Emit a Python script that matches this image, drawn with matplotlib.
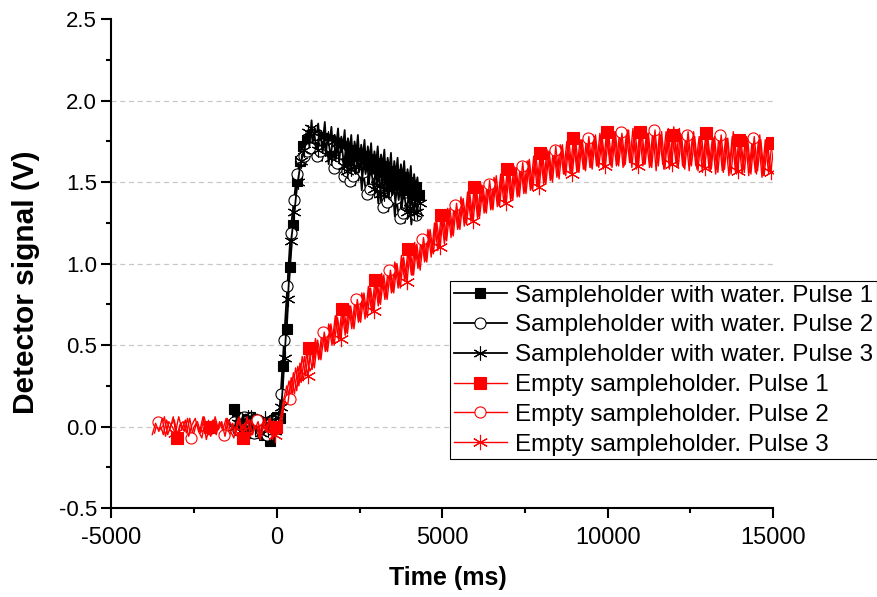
import numpy as np
import matplotlib
matplotlib.use("Agg")
import matplotlib.pyplot as plt
from matplotlib.ticker import MultipleLocator

plt.rcParams['font.family'] = ['Liberation Sans', 'DejaVu Sans']
plt.rcParams['axes.unicode_minus'] = False

# ---- data (time in ms, signal in V) ----
labels = [
    "Sampleholder with water. Pulse 1",
    "Sampleholder with water. Pulse 2",
    "Sampleholder with water. Pulse 3",
    "Empty sampleholder. Pulse 1",
    "Empty sampleholder. Pulse 2",
    "Empty sampleholder. Pulse 3",
]

# sampleholder with water: first sample time, 50 ms sampling
water_start = [-1300, -1283, -1267]
water_step = 50
water_v1 = [0.11, 0.03, 0.06, -0.02, 0.04, 0.07, -0.01, 0.05, 0.01, -0.03,
            0.06, 0.02, -0.04, 0.04, 0.00, 0.07, -0.02, 0.03, -0.05, 0.05,
            0.01, -0.03, -0.09, 0.04, 0.02, -0.04, 0.06, 0.00, 0.05, 0.15,
            0.37, 0.48, 0.60, 0.80, 0.98, 1.12, 1.24, 1.38, 1.51, 1.57,
            1.63, 1.70, 1.72, 1.78, 1.75, 1.82, 1.76, 1.88, 1.73, 1.83,
            1.78, 1.86, 1.72, 1.81, 1.77, 1.87, 1.71, 1.80, 1.75, 1.84,
            1.69, 1.79, 1.74, 1.83, 1.68, 1.78, 1.72, 1.82, 1.66, 1.77,
            1.70, 1.79, 1.63, 1.75, 1.68, 1.79, 1.62, 1.73, 1.66, 1.76,
            1.60, 1.72, 1.64, 1.74, 1.57, 1.69, 1.62, 1.72, 1.56, 1.67,
            1.60, 1.70, 1.52, 1.65, 1.57, 1.68, 1.50, 1.63, 1.55, 1.65,
            1.48, 1.61, 1.53, 1.63, 1.45, 1.58, 1.50, 1.60, 1.42, 1.55,
            1.47, 1.53, 1.42]
water_v2 = [0.03, 0.07, -0.02, 0.05, 0.01, -0.01, 0.06, 0.02, 0.04, -0.03,
            0.05, 0.00, -0.04, 0.06, 0.02, 0.04, -0.02, 0.05, -0.01, 0.03,
            -0.05, 0.02, 0.03, -0.03, -0.01, 0.05, 0.04, 0.07, 0.20, 0.36,
            0.53, 0.70, 0.86, 1.03, 1.19, 1.30, 1.39, 1.48, 1.55, 1.60,
            1.64, 1.69, 1.66, 1.75, 1.69, 1.79, 1.71, 1.67, 1.78, 1.70,
            1.66, 1.77, 1.69, 1.63, 1.75, 1.66, 1.73, 1.61, 1.72, 1.64,
            1.59, 1.70, 1.62, 1.56, 1.68, 1.59, 1.54, 1.66, 1.57, 1.62,
            1.51, 1.62, 1.54, 1.48, 1.60, 1.51, 1.58, 1.45, 1.56, 1.48,
            1.43, 1.54, 1.46, 1.40, 1.52, 1.43, 1.50, 1.37, 1.48, 1.40,
            1.35, 1.46, 1.38, 1.32, 1.44, 1.35, 1.42, 1.29, 1.40, 1.32,
            1.28, 1.39, 1.31, 1.25, 1.37, 1.28, 1.35, 1.24, 1.34, 1.27,
            1.30]
water_v3 = [0.00, 0.05, 0.02, -0.03, 0.04, 0.07, -0.02, 0.03, 0.06, -0.01,
            0.06, 0.01, -0.01, 0.04, 0.03, -0.04, -0.04, 0.05, 0.05, 0.00,
            -0.02, 0.03, 0.04, -0.02, -0.03, 0.06, 0.05, 0.08, 0.12, 0.25,
            0.42, 0.60, 0.78, 0.96, 1.14, 1.23, 1.32, 1.42, 1.50, 1.57,
            1.63, 1.66, 1.70, 1.77, 1.81, 1.72, 1.83, 1.74, 1.80, 1.71,
            1.70, 1.82, 1.78, 1.68, 1.78, 1.67, 1.77, 1.72, 1.65, 1.76,
            1.75, 1.64, 1.74, 1.62, 1.73, 1.69, 1.60, 1.71, 1.57, 1.69,
            1.58, 1.68, 1.60, 1.55, 1.67, 1.56, 1.65, 1.52, 1.63, 1.55,
            1.62, 1.49, 1.60, 1.53, 1.46, 1.58, 1.48, 1.56, 1.43, 1.54,
            1.43, 1.53, 1.46, 1.40, 1.51, 1.42, 1.49, 1.37, 1.48, 1.39,
            1.47, 1.35, 1.45, 1.38, 1.32, 1.43, 1.34, 1.41, 1.31, 1.40,
            1.32, 1.41, 1.37]

# empty sampleholder: first sample time, 100 ms sampling
empty_start = [-3533, -3700, -3767]
empty_step = 100
empty_v1 = [0.02, -0.05, 0.04, -0.02, 0.06, -0.07, 0.01, 0.03, -0.04, 0.05,
            -0.06, 0.02, -0.03, 0.06, -0.08, 0.00, 0.04, -0.05, 0.03, -0.02,
            0.05, -0.06, 0.02, -0.04, 0.06, -0.07, 0.01, 0.04, -0.05, 0.02,
            -0.07, 0.03, -0.03, 0.05, -0.08, 0.00, 0.02, 0.10, 0.17, 0.28,
            0.20, 0.36, 0.25, 0.43, 0.31, 0.48, 0.35, 0.54, 0.41, 0.59,
            0.46, 0.63, 0.50, 0.68, 0.53, 0.72, 0.56, 0.75, 0.60, 0.79,
            0.64, 0.82, 0.66, 0.86, 0.70, 0.90, 0.74, 0.94, 0.78, 0.97,
            0.82, 1.01, 0.85, 1.05, 0.89, 1.09, 0.93, 1.13, 0.97, 1.17,
            1.01, 1.21, 1.04, 1.25, 1.08, 1.30, 1.12, 1.34, 1.16, 1.38,
            1.21, 1.41, 1.23, 1.44, 1.26, 1.47, 1.28, 1.49, 1.31, 1.51,
            1.33, 1.53, 1.35, 1.55, 1.37, 1.58, 1.39, 1.60, 1.41, 1.62,
            1.43, 1.63, 1.45, 1.66, 1.47, 1.68, 1.49, 1.70, 1.51, 1.72,
            1.53, 1.73, 1.55, 1.75, 1.56, 1.77, 1.57, 1.76, 1.58, 1.78,
            1.59, 1.79, 1.60, 1.80, 1.58, 1.81, 1.61, 1.79, 1.60, 1.82,
            1.59, 1.80, 1.62, 1.83, 1.58, 1.81, 1.60, 1.78, 1.59, 1.82,
            1.57, 1.80, 1.61, 1.81, 1.58, 1.79, 1.62, 1.83, 1.60, 1.79,
            1.57, 1.79, 1.60, 1.78, 1.56, 1.80, 1.58, 1.77, 1.55, 1.79,
            1.57, 1.77, 1.54, 1.78, 1.56, 1.76, 1.55, 1.78, 1.54, 1.75,
            1.56, 1.77, 1.53, 1.76, 1.55, 1.74]
empty_v2 = [-0.04, 0.03, -0.02, 0.06, -0.05, 0.01, 0.04, -0.06, 0.02, -0.03,
            0.05, -0.07, 0.00, 0.03, -0.04, 0.06, -0.02, -0.06, 0.04, -0.01,
            0.02, -0.05, 0.05, -0.03, -0.07, 0.03, 0.01, -0.04, 0.06, -0.06,
            -0.02, 0.04, -0.08, 0.02, -0.03, 0.05, -0.05, 0.00, 0.03, 0.16,
            0.25, 0.17, 0.33, 0.22, 0.39, 0.28, 0.45, 0.34, 0.38, 0.51,
            0.42, 0.58, 0.47, 0.62, 0.51, 0.68, 0.55, 0.70, 0.58, 0.74,
            0.62, 0.78, 0.65, 0.81, 0.69, 0.85, 0.72, 0.89, 0.76, 0.92,
            0.80, 0.96, 0.83, 1.00, 0.87, 1.03, 0.91, 1.08, 0.93, 1.11,
            0.98, 1.15, 1.02, 1.20, 1.07, 1.25, 1.10, 1.29, 1.15, 1.33,
            1.18, 1.36, 1.22, 1.39, 1.25, 1.43, 1.27, 1.46, 1.29, 1.48,
            1.32, 1.49, 1.34, 1.52, 1.36, 1.55, 1.38, 1.57, 1.40, 1.59,
            1.42, 1.60, 1.44, 1.63, 1.46, 1.65, 1.48, 1.67, 1.50, 1.69,
            1.52, 1.70, 1.54, 1.72, 1.55, 1.74, 1.56, 1.75, 1.57, 1.76,
            1.58, 1.77, 1.59, 1.78, 1.60, 1.79, 1.61, 1.80, 1.60, 1.81,
            1.61, 1.81, 1.60, 1.82, 1.62, 1.80, 1.59, 1.83, 1.61, 1.80,
            1.60, 1.82, 1.62, 1.79, 1.58, 1.81, 1.61, 1.84, 1.60, 1.80,
            1.59, 1.79, 1.61, 1.81, 1.58, 1.78, 1.60, 1.80, 1.57, 1.77,
            1.58, 1.79, 1.56, 1.77, 1.59, 1.81, 1.55, 1.76, 1.58, 1.78,
            1.56, 1.77, 1.55, 1.79, 1.54, 1.76, 1.57]
empty_v3 = [-0.05, 0.02, -0.03, 0.05, -0.06, 0.03, 0.00, -0.04, 0.06, -0.02,
            0.04, -0.06, 0.01, 0.05, -0.03, -0.07, 0.03, 0.00, -0.05, 0.06,
            -0.02, 0.03, -0.06, 0.04, 0.01, -0.05, 0.05, -0.03, 0.02, -0.07,
            0.04, -0.02, 0.03, -0.06, 0.05, -0.04, 0.02, -0.05, 0.03, 0.01,
            0.15, 0.14, 0.30, 0.20, 0.37, 0.27, 0.43, 0.31, 0.48, 0.36,
            0.53, 0.41, 0.58, 0.46, 0.63, 0.50, 0.67, 0.54, 0.71, 0.57,
            0.74, 0.60, 0.78, 0.64, 0.82, 0.67, 0.85, 0.71, 0.89, 0.75,
            0.93, 0.78, 0.96, 0.82, 1.00, 0.85, 1.04, 0.89, 1.08, 0.93,
            1.12, 0.96, 1.16, 1.01, 1.21, 1.06, 1.26, 1.10, 1.30, 1.14,
            1.34, 1.17, 1.37, 1.21, 1.40, 1.24, 1.43, 1.26, 1.46, 1.29,
            1.48, 1.31, 1.51, 1.33, 1.54, 1.35, 1.56, 1.37, 1.58, 1.39,
            1.59, 1.41, 1.62, 1.43, 1.64, 1.45, 1.66, 1.47, 1.68, 1.49,
            1.69, 1.50, 1.72, 1.52, 1.73, 1.54, 1.75, 1.55, 1.76, 1.56,
            1.76, 1.57, 1.78, 1.58, 1.79, 1.59, 1.78, 1.60, 1.80, 1.59,
            1.81, 1.60, 1.80, 1.61, 1.82, 1.59, 1.81, 1.60, 1.83, 1.61,
            1.80, 1.59, 1.82, 1.60, 1.81, 1.58, 1.83, 1.61, 1.80, 1.59,
            1.79, 1.58, 1.81, 1.60, 1.78, 1.57, 1.80, 1.59, 1.77, 1.58,
            1.78, 1.56, 1.79, 1.58, 1.77, 1.55, 1.78, 1.57, 1.76, 1.56,
            1.77, 1.55, 1.78, 1.57, 1.76, 1.54, 1.75, 1.56, 1.74]

water = [water_v1, water_v2, water_v3]
empty = [empty_v1, empty_v2, empty_v3]

# ---- figure ----
fig = plt.figure(figsize=(8.77, 5.97), dpi=100)
ax = fig.add_axes([0.1271, 0.1491, 0.7543, 0.8186])

markers = ['s', 'o', (6, 2, 0)]
fills_black = ['black', 'white', 'black']
fills_red = ['red', 'white', 'red']
sizes_black = [7, 8, 10]
sizes_red = [8, 8, 11]
red_every = [(5, 10), (1, 10), (7, 10)]

# water (black) traces
for i, v in enumerate(water):
    t = water_start[i] + water_step * np.arange(len(v))
    ax.plot(t, v, color='black', lw=1.3, marker=markers[i], ms=sizes_black[i],
            markevery=2, mfc=fills_black[i], mec='black', mew=0.8,
            label=labels[i], zorder=2)

# empty (red) traces
for i, v in enumerate(empty):
    t = empty_start[i] + empty_step * np.arange(len(v))
    ax.plot(t, v, color='red', lw=1.0, marker=markers[i], ms=sizes_red[i],
            markevery=red_every[i], mfc=fills_red[i], mec='red', mew=0.8,
            label=labels[3 + i], zorder=3)

ax.set_xlim(-5000, 15000)
ax.set_ylim(-0.5, 2.5)
ax.xaxis.set_major_locator(MultipleLocator(5000))
ax.xaxis.set_minor_locator(MultipleLocator(2500))
ax.yaxis.set_major_locator(MultipleLocator(0.5))
ax.yaxis.set_minor_locator(MultipleLocator(0.25))
ax.yaxis.set_major_formatter(plt.FuncFormatter(lambda v, p: f"{v:.1f}"))

ax.tick_params(which='major', direction='out', length=7, width=1.5)
ax.tick_params(which='minor', direction='out', length=3.5, width=1.5)
ax.tick_params(axis='x', labelsize=17, pad=7)
ax.tick_params(axis='y', labelsize=16, pad=3.5)

for side in ['top', 'right']:
    ax.spines[side].set_visible(False)
for side in ['left', 'bottom']:
    ax.spines[side].set_linewidth(1.5)

# dashed horizontal grid (not at the axis limits)
ax.yaxis.grid(True, color='#c8c8c8', linestyle=(0, (4, 3)), linewidth=0.9)
ax.set_axisbelow(True)
for gl, loc in zip(ax.get_ygridlines(), ax.get_yticks()):
    if loc < -0.25 or loc > 2.25:
        gl.set_visible(False)

ax.set_xlabel('Time (ms)', fontsize=18, fontweight='bold')
ax.xaxis.set_label_coords(0.509, -0.119)
ax.set_ylabel('Detector signal (V)', fontsize=21.5, fontweight='bold')
ax.yaxis.set_label_coords(-0.108, 0.4625)

leg = ax.legend(loc='upper left', bbox_to_anchor=(450 / 877, 1 - 281 / 597),
                bbox_transform=fig.transFigure, borderaxespad=0,
                fontsize=17.5, frameon=True, fancybox=False, framealpha=1,
                edgecolor='black', borderpad=0.15, labelspacing=0.32,
                handlelength=2.2, handletextpad=0.33, numpoints=1)
leg.get_frame().set_linewidth(0.8)

fig.savefig('out.png', dpi=100, facecolor='white')
